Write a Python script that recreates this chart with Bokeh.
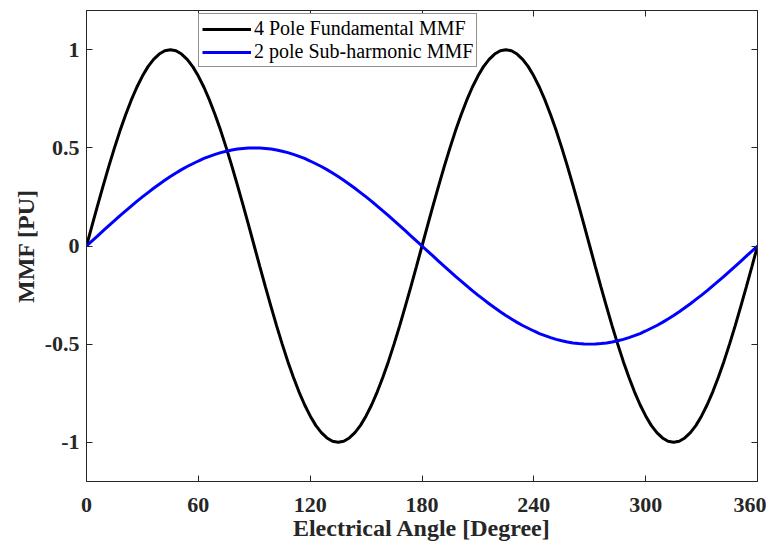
from bokeh.plotting import figure
from bokeh.models import Range1d, FixedTicker, LinearAxis, Legend, LegendItem
from bokeh.embed import file_html
from bokeh.resources import INLINE

# Electrical angle [degree]
angle = list(range(0, 361, 3))

# 4 pole fundamental MMF [PU]
mmf_4pole = [
    0.0, 0.105, 0.208, 0.309, 0.407, 0.5, 0.588, 0.669, 0.743, 0.809, 0.866, 0.914, 0.951, 0.978, 0.995, 1.0,
    0.995, 0.978, 0.951, 0.914, 0.866, 0.809, 0.743, 0.669, 0.588, 0.5, 0.407, 0.309, 0.208, 0.105, 0.0,
    -0.105, -0.208, -0.309, -0.407, -0.5, -0.588, -0.669, -0.743, -0.809, -0.866, -0.914, -0.951, -0.978, -0.995, -1.0,
    -0.995, -0.978, -0.951, -0.914, -0.866, -0.809, -0.743, -0.669, -0.588, -0.5, -0.407, -0.309, -0.208, -0.105, 0.0,
    0.105, 0.208, 0.309, 0.407, 0.5, 0.588, 0.669, 0.743, 0.809, 0.866, 0.914, 0.951, 0.978, 0.995, 1.0,
    0.995, 0.978, 0.951, 0.914, 0.866, 0.809, 0.743, 0.669, 0.588, 0.5, 0.407, 0.309, 0.208, 0.105, 0.0,
    -0.105, -0.208, -0.309, -0.407, -0.5, -0.588, -0.669, -0.743, -0.809, -0.866, -0.914, -0.951, -0.978, -0.995, -1.0,
    -0.995, -0.978, -0.951, -0.914, -0.866, -0.809, -0.743, -0.669, -0.588, -0.5, -0.407, -0.309, -0.208, -0.105, 0.0,
]

# 2 pole sub-harmonic MMF [PU]
mmf_2pole = [
    0.0, 0.026, 0.052, 0.078, 0.104, 0.129, 0.155, 0.179, 0.203, 0.227, 0.25, 0.272, 0.294, 0.315, 0.335, 0.354,
    0.372, 0.389, 0.405, 0.419, 0.433, 0.446, 0.457, 0.467, 0.476, 0.483, 0.489, 0.494, 0.497, 0.499, 0.5,
    0.499, 0.497, 0.494, 0.489, 0.483, 0.476, 0.467, 0.457, 0.446, 0.433, 0.419, 0.405, 0.389, 0.372, 0.354,
    0.335, 0.315, 0.294, 0.272, 0.25, 0.227, 0.203, 0.179, 0.155, 0.129, 0.104, 0.078, 0.052, 0.026, 0.0,
    -0.026, -0.052, -0.078, -0.104, -0.129, -0.155, -0.179, -0.203, -0.227, -0.25, -0.272, -0.294, -0.315, -0.335, -0.354,
    -0.372, -0.389, -0.405, -0.419, -0.433, -0.446, -0.457, -0.467, -0.476, -0.483, -0.489, -0.494, -0.497, -0.499, -0.5,
    -0.499, -0.497, -0.494, -0.489, -0.483, -0.476, -0.467, -0.457, -0.446, -0.433, -0.419, -0.405, -0.389, -0.372, -0.354,
    -0.335, -0.315, -0.294, -0.272, -0.25, -0.227, -0.203, -0.179, -0.155, -0.129, -0.104, -0.078, -0.052, -0.026, 0.0,
]

x_ticks = [0, 60, 120, 180, 240, 300, 360]
y_ticks = [-1, -0.5, 0, 0.5, 1]
y_tick_labels = ["-1", "-0.5", "0", "0.5", "1"]
series_names = ["4 Pole Fundamental MMF", "2 pole Sub-harmonic MMF"]

FONT = "Liberation Serif"
TXT = "#262626"

p = figure(width=766, height=549, output_backend="svg", toolbar_location=None,
           x_range=Range1d(0, 360), y_range=Range1d(-1.2, 1.2),
           min_border_left=86, min_border_right=9, min_border_top=10,
           min_border_bottom=68)
p.background_fill_color = "white"
p.border_fill_color = "white"
p.outline_line_color = TXT
p.outline_line_width = 1
p.xgrid.visible = False
p.ygrid.visible = False

r1 = p.line(angle, mmf_4pole, line_color="#000000", line_width=3)
r2 = p.line(angle, mmf_2pole, line_color="#0000ff", line_width=3)

def style_axis(ax, ticks, show_labels=True):
    ax.ticker = FixedTicker(ticks=ticks)
    ax.major_tick_in = 6
    ax.major_tick_out = 0
    ax.minor_tick_line_color = None
    ax.major_tick_line_color = TXT
    ax.axis_line_color = TXT
    ax.major_label_text_font = FONT
    ax.major_label_text_font_style = "bold"
    ax.major_label_text_color = TXT
    ax.major_label_text_font_size = "22px"
    ax.axis_label_text_font = FONT
    ax.axis_label_text_font_style = "bold"
    ax.axis_label_text_color = TXT
    ax.axis_label_text_font_size = "24px"
    if not show_labels:
        ax.major_label_overrides = {t: "" for t in ticks}
        ax.major_label_standoff = 0

xa = p.xaxis[0]
style_axis(xa, x_ticks)
xa.axis_label = "Electrical Angle [Degree]"
xa.major_label_standoff = 16
xa.axis_label_standoff = 0

ya = p.yaxis[0]
style_axis(ya, y_ticks)
ya.axis_label = "MMF [PU]"
ya.major_label_standoff = 7
ya.axis_label_standoff = 3
ya.major_label_overrides = {t: s for t, s in zip(y_ticks, y_tick_labels)}

top = LinearAxis()
style_axis(top, x_ticks, show_labels=False)
p.add_layout(top, "above")
right = LinearAxis()
style_axis(right, y_ticks, show_labels=False)
p.add_layout(right, "right")

legend = Legend(items=[LegendItem(label=series_names[0], renderers=[r1]),
                       LegendItem(label=series_names[1], renderers=[r2])],
                location=(112, 414))
legend.label_text_font = FONT
legend.label_text_font_size = "20px"
legend.label_text_color = "#000000"
legend.border_line_color = TXT
legend.border_line_width = 1
legend.background_fill_alpha = 1
legend.padding = 3
legend.margin = 0
legend.spacing = 0
legend.glyph_width = 49
legend.glyph_height = 20
legend.label_height = 20
legend.label_standoff = 3
p.add_layout(legend, "center")

open("out.html", "w").write(file_html(p, INLINE))
